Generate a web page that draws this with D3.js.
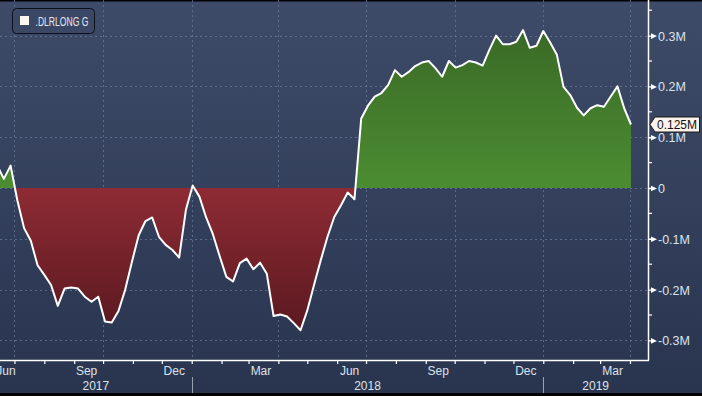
<!DOCTYPE html>
<html lang="en">
<head>
<meta charset="UTF-8">
<title>.DLRLONG G</title>
<script src="https://cdn.jsdelivr.net/npm/d3@7"></script>
<style>
  body { margin: 0; background: #000; }
  svg { display: block; font-family: "Liberation Sans", Arial, sans-serif; }
  .axis text { fill: #dde2ea; font-size: 12px; }
  .grid line { stroke: #6a7f9f; stroke-dasharray: 2,3; stroke-opacity: 0.7; }
</style>
</head>
<body>
<svg width="702" height="396"></svg>
<script>
// weekly readings, millions, first one falls just left of the frame
const firstWeek = "2017-06-13";
const netLong = [
  0.045, 0.018, 0.044, -0.024, -0.079, -0.104, -0.152, -0.171, -0.191, -0.232,
  -0.198, -0.196, -0.198, -0.214, -0.224, -0.214, -0.263, -0.265, -0.242, -0.200,
  -0.145, -0.093, -0.065, -0.058, -0.096, -0.112, -0.122, -0.137, -0.043, 0.005,
  -0.017, -0.058, -0.091, -0.134, -0.175, -0.184, -0.148, -0.139, -0.160, -0.147,
  -0.169, -0.252, -0.249, -0.253, -0.266, -0.280, -0.241, -0.191, -0.142, -0.096,
  -0.057, -0.034, -0.009, -0.022, 0.137, 0.162, 0.180, 0.187, 0.203, 0.232,
  0.219, 0.228, 0.240, 0.247, 0.250, 0.236, 0.219, 0.250, 0.237, 0.242,
  0.250, 0.247, 0.241, 0.272, 0.300, 0.283, 0.283, 0.288, 0.311, 0.276,
  0.280, 0.309, 0.287, 0.263, 0.199, 0.183, 0.158, 0.143, 0.157, 0.163,
  0.160, 0.180, 0.200, 0.157, 0.125
];
const yTicks = [-0.3, -0.2, -0.1, 0, 0.1, 0.2, 0.3];
const yMinorTicks = [-0.25, -0.15, -0.05, 0.05, 0.15, 0.25, 0.35];
const labelMonths = ["Jun", "Sep", "Dec", "Mar"];
const seriesName = ".DLRLONG G";
const lastLabel = "0.125M";

const W = 702, H = 396;
const plotW = 648, plotH = 360;

const parse = d3.timeParse("%Y-%m-%d");
const start = parse(firstWeek);
const data = netLong.map((v, i) => ({ date: d3.timeWeek.offset(start, i), v: v }));

const x = d3.scaleTime()
  .domain([new Date(2017, 5, 16), new Date(2019, 3, 19, 17)])
  .range([0, plotW]);
const y = d3.scaleLinear().domain([-0.3386, 0.3701]).range([plotH, 0]);

const svg = d3.select("svg");
const defs = svg.append("defs");

const bg = defs.append("linearGradient").attr("id", "bg")
  .attr("x1", 0).attr("y1", 0).attr("x2", 0).attr("y2", 1);
bg.append("stop").attr("offset", 0).attr("stop-color", "#3e4b68");
bg.append("stop").attr("offset", 1).attr("stop-color", "#29354f");

const green = defs.append("linearGradient").attr("id", "green")
  .attr("gradientUnits", "userSpaceOnUse")
  .attr("x1", 0).attr("x2", 0).attr("y1", y(0.31)).attr("y2", y(0));
green.append("stop").attr("offset", 0).attr("stop-color", "#3a6a27");
green.append("stop").attr("offset", 1).attr("stop-color", "#4c8d31");

const red = defs.append("linearGradient").attr("id", "red")
  .attr("gradientUnits", "userSpaceOnUse")
  .attr("x1", 0).attr("x2", 0).attr("y1", y(0)).attr("y2", y(-0.28));
red.append("stop").attr("offset", 0).attr("stop-color", "#8e2b34");
red.append("stop").attr("offset", 1).attr("stop-color", "#5b1920");

defs.append("clipPath").attr("id", "plot")
  .append("rect").attr("x", 0).attr("y", 0).attr("width", plotW).attr("height", plotH);
defs.append("clipPath").attr("id", "pos")
  .append("rect").attr("x", 0).attr("y", 0).attr("width", plotW).attr("height", y(0));
defs.append("clipPath").attr("id", "neg")
  .append("rect").attr("x", 0).attr("y", y(0)).attr("width", plotW).attr("height", plotH - y(0));

// background and frame
svg.append("rect").attr("width", W).attr("height", H).attr("fill", "url(#bg)");
svg.append("rect").attr("width", W).attr("height", 1.5).attr("fill", "#000");
svg.append("rect").attr("y", 393).attr("width", W).attr("height", 3).attr("fill", "#000");

// grid
const months = d3.timeMonth.range(x.domain()[0], x.domain()[1]);
const quarters = months.filter(d => d.getMonth() % 3 === 0);

svg.append("g").attr("class", "grid")
  .selectAll("line").data(yTicks).join("line")
  .attr("x1", 0).attr("x2", plotW)
  .attr("y1", d => Math.round(y(d)) + 0.5).attr("y2", d => Math.round(y(d)) + 0.5);
svg.append("g").attr("class", "grid")
  .selectAll("line").data(quarters).join("line")
  .attr("x1", d => Math.round(x(d)) + 0.5).attr("x2", d => Math.round(x(d)) + 0.5)
  .attr("y1", 0).attr("y2", plotH);

// areas and line
const area = d3.area().x(d => x(d.date)).y0(y(0)).y1(d => y(d.v));
const plot = svg.append("g").attr("clip-path", "url(#plot)");
plot.append("path").datum(data).attr("d", area)
  .attr("fill", "url(#green)").attr("clip-path", "url(#pos)");
plot.append("path").datum(data).attr("d", area)
  .attr("fill", "url(#red)").attr("clip-path", "url(#neg)");
plot.append("path").datum(data)
  .attr("d", d3.line().x(d => x(d.date)).y(d => y(d.v)))
  .attr("fill", "none").attr("stroke", "#fff").attr("stroke-width", 2)
  .attr("stroke-linejoin", "round");

// y axis on the right
const yAxis = svg.append("g").attr("class", "axis")
  .attr("transform", `translate(${plotW},0)`)
  .call(d3.axisRight(y).tickValues(yTicks).tickSize(0).tickPadding(10)
    .tickFormat(d => d === 0 ? "0" : (d < 0 ? "-" : "") + Math.abs(d).toFixed(1) + "M"));
yAxis.select(".domain").remove();
yAxis.selectAll(".tick text").attr("dy", "0.36em").style("font-size", "12.5px");
yAxis.selectAll(".tick").append("path")
  .attr("d", "M0,-0.7H3V-2.8L9,0L3,2.8V0.7H0Z").attr("fill", "#fff");

svg.append("g").selectAll("line").data(yMinorTicks).join("line")
  .attr("x1", plotW).attr("x2", plotW + 4)
  .attr("y1", d => y(d)).attr("y2", d => y(d))
  .attr("stroke", "#fff").attr("stroke-width", 1.2);

svg.append("line").attr("x1", plotW + 0.5).attr("x2", plotW + 0.5)
  .attr("y1", 0).attr("y2", plotH + 0.5)
  .attr("stroke", "#fff").attr("stroke-width", 1.5);

// x axis: month ticks
const xAxis = svg.append("g").attr("class", "axis")
  .attr("transform", `translate(0,${plotH})`)
  .call(d3.axisBottom(x).tickValues(months).tickSize(4).tickFormat(""));
xAxis.select(".domain").remove();
xAxis.selectAll(".tick line").attr("stroke", "#fff").attr("stroke-width", 1.2);
svg.append("line").attr("x1", 0).attr("x2", plotW + 1)
  .attr("y1", plotH + 0.5).attr("y2", plotH + 0.5)
  .attr("stroke", "#fff").attr("stroke-width", 1.5);

// month labels in the middle of their month (first one pinned to the edge)
const fmtMonth = d3.timeFormat("%b");
const labelled = months.concat([d3.timeMonth.floor(x.domain()[0])])
  .filter(d => labelMonths.includes(fmtMonth(d)));
svg.append("g").attr("class", "axis")
  .selectAll("text").data(labelled).join("text")
  .attr("x", d => Math.max(6, x(d3.timeDay.offset(d, 15)) - 2))
  .attr("y", plotH + 15)
  .attr("text-anchor", "middle")
  .text(fmtMonth);

// years
const d0 = x.domain()[0], d1 = x.domain()[1];
const years = d3.timeYear.range(d3.timeYear.floor(d0), d1);
const yearBreaks = years.filter(d => d > d0);
svg.append("g").selectAll("line").data(yearBreaks).join("line")
  .attr("x1", d => Math.round(x(d)) + 0.5).attr("x2", d => Math.round(x(d)) + 0.5)
  .attr("y1", plotH + 17).attr("y2", 393)
  .attr("stroke", "#98a1af").attr("stroke-width", 1);
svg.append("g").attr("class", "axis")
  .selectAll("text").data(years).join("text")
  .attr("x", d => {
    const a = Math.max(0, x(d));
    const b = Math.min(plotW, x(d3.timeYear.offset(d, 1)));
    return (a + b) / 2;
  })
  .attr("y", plotH + 30)
  .attr("text-anchor", "middle")
  .text(d3.timeFormat("%Y"));

// last value flag
const last = data[data.length - 1];
const ly = y(last.v);
svg.append("path")
  .attr("d", `M${plotW + 2},${ly}L${plotW + 7},${ly - 7.5}H${W - 2.5}V${ly + 7.5}H${plotW + 7}Z`)
  .attr("fill", "#fdf3ea").attr("stroke", "#1a1a1a").attr("stroke-width", 1);
svg.append("text")
  .attr("x", plotW + 9).attr("y", ly).attr("dy", "0.36em")
  .attr("font-size", 12).attr("fill", "#111")
  .text(lastLabel);

// legend
const legend = svg.append("g").attr("transform", "translate(12.5,8.5)");
legend.append("rect").attr("width", 82).attr("height", 25).attr("rx", 4)
  .attr("fill", "#3b4865").attr("stroke", "#0c1019").attr("stroke-width", 1);
legend.append("rect").attr("x", 7.5).attr("y", 7.5).attr("width", 9).attr("height", 9)
  .attr("fill", "#fdf5f0");
legend.append("text").attr("x", 23).attr("y", 12.5).attr("dy", "0.36em")
  .attr("font-size", 12.5).attr("fill", "#e6eaf0")
  .attr("textLength", 53).attr("lengthAdjust", "spacingAndGlyphs")
  .text(seriesName);
</script>
</body>
</html>
